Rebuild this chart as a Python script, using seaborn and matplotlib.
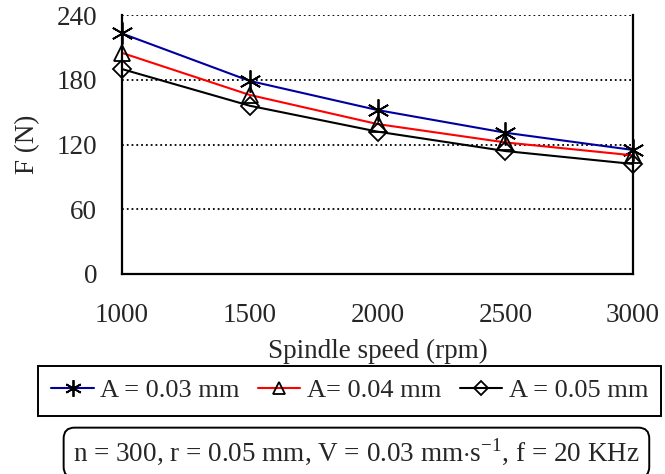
import pandas as pd
import matplotlib
matplotlib.use("Agg")
import matplotlib.pyplot as plt
import seaborn as sns

# Values
speed = [1000, 1500, 2000, 2500, 3000]
f_a003 = [223, 179, 152, 131, 115]
f_a004 = [205, 166, 139, 122, 110]
f_a005 = [190, 156, 132, 114, 102]
labels = ['A = 0.03 mm', 'A= 0.04 mm', 'A = 0.05 mm']
y_ticks = [0, 60, 120, 180, 240]

sns.set_style('white')
plt.rcParams['font.family'] = ['Liberation Serif', 'DejaVu Serif']
plt.rcParams['mathtext.fontset'] = 'custom'
plt.rcParams['mathtext.rm'] = 'Liberation Serif'
plt.rcParams['font.size'] = 19.5

fig = plt.figure(figsize=(6.65, 4.74), dpi=100)
ax = fig.add_axes([0.1835, 0.422, 0.7685, 0.546])

series = [f_a003, f_a004, f_a005]
colors = ['#0000a0', '#ff0000', 'black']
markers = [(6, 2, 0), '^', 'D']
sizes = [16, 12, 9]
for vals, lab, col, mk, ms in zip(series, labels, colors, markers, sizes):
    df = pd.DataFrame({'speed': speed, 'F': vals})
    sns.lineplot(data=df, x='speed', y='F', color=col, marker=mk, ms=ms,
                 mec='black', mfc='none', mew=1.3, lw=1.5, label=lab,
                 clip_on=False, ax=ax)

ax.set_xlim(1000, 3000)
ax.set_ylim(0, 240)
ax.set_xticks(speed)
ax.set_yticks(y_ticks)
ax.yaxis.grid(True, color='black', linestyle=':', linewidth=1.3)
ax.xaxis.grid(False)
ax.spines['top'].set_visible(False)
for s in ['left', 'right', 'bottom']:
    ax.spines[s].set_color('black')
    ax.spines[s].set_linewidth(1.6)
ax.tick_params(axis='x', direction='in', length=6, width=1.2, pad=21, color='black')
ax.tick_params(axis='y', length=0, pad=18)
ax.set_xlabel('Spindle speed (rpm)', labelpad=8)
ax.set_ylabel('F (N)', labelpad=12)

ax.get_legend().remove()
handles, labs = ax.get_legend_handles_labels()
leg = fig.legend(handles, labs, loc='center', bbox_to_anchor=(0.526, 0.176), ncol=3,
                 fancybox=False, edgecolor='black', framealpha=1, borderpad=0.5,
                 fontsize=19, handlelength=1.6, handletextpad=0.25, columnspacing=0.7,
                 markerscale=0.75)
leg.get_frame().set_linewidth(1.4)

fig.text(0.536, 0.045, r'n = 300, r = 0.05 mm, V = 0.03 mm$\cdot$s$^{-1}$, f = 20 KHz',
         ha='center', va='center', fontsize=19.5,
         bbox=dict(boxstyle='round,pad=0.35,rounding_size=0.4', fc='white', ec='black', lw=1.4))

fig.savefig('out.png', dpi=100)
